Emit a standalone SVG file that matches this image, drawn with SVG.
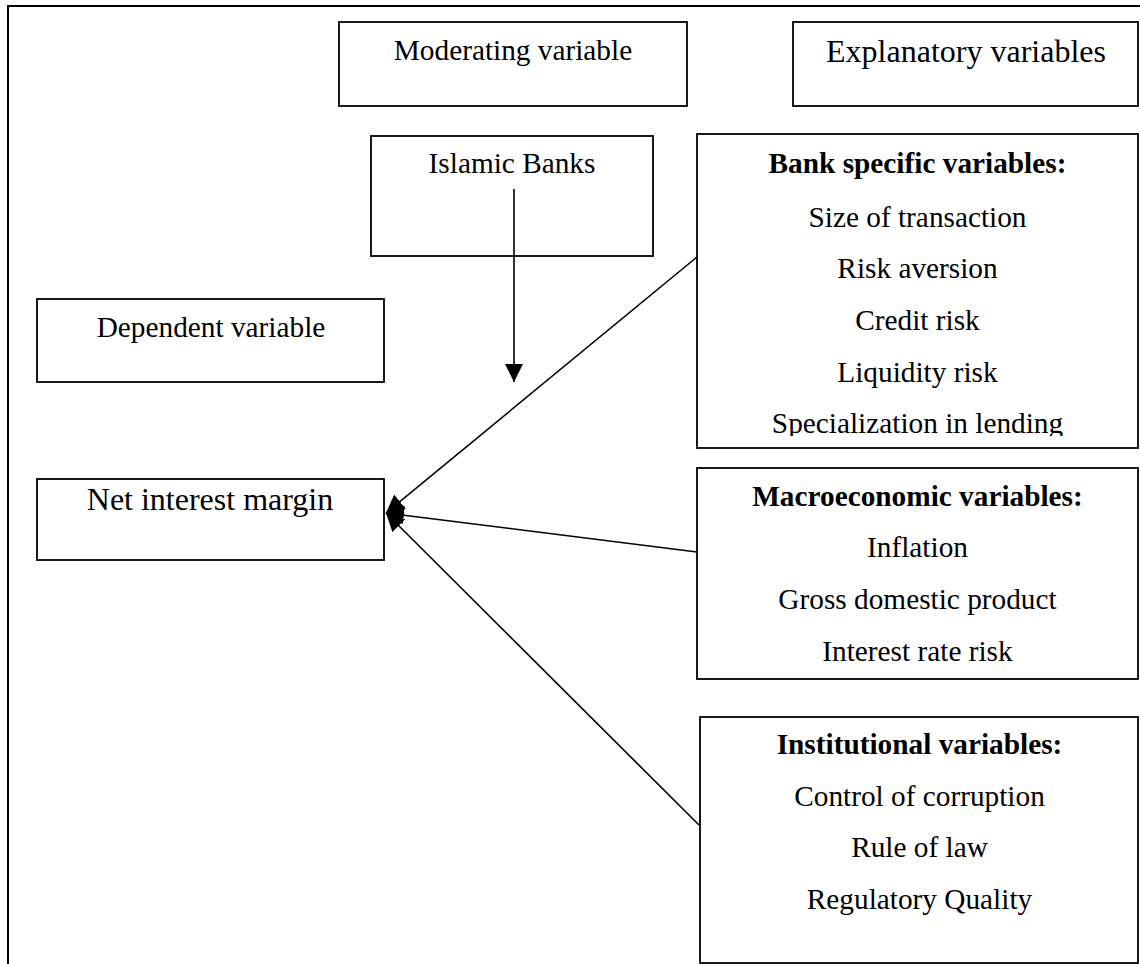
<svg xmlns="http://www.w3.org/2000/svg" width="1140" height="964" viewBox="0 0 1140 964">
<style>
.box{fill:#fff;stroke:#000;stroke-width:1.8}
.t{font-family:"Liberation Serif","Times New Roman",serif;font-size:29.3px;text-anchor:middle;fill:#000}
.b{font-weight:bold}
.big{font-size:32px}
.c{stroke:#000;stroke-width:1.6;fill:none}
</style>
<defs>
<marker id="ah" markerUnits="userSpaceOnUse" markerWidth="18" markerHeight="18" viewBox="0 0 16 16" refX="16" refY="8" orient="auto">
<path d="M0,0 L16,8 L0,16 Z" fill="#000"/>
</marker>
<clipPath id="bankclip"><rect x="697" y="134" width="441" height="302"/></clipPath>
</defs>
<rect width="1140" height="964" fill="#fff"/>
<rect x="8" y="6" width="1150" height="1000" fill="none" stroke="#000" stroke-width="2"/>
<g id="moderating-label">
<rect class="box" x="339" y="22" width="348" height="84"/>
<text class="t" x="513" y="60">Moderating variable</text>
</g>
<g id="explanatory-label">
<rect class="box" x="793" y="22" width="345" height="84"/>
<text class="t big" x="966" y="62">Explanatory variables</text>
</g>
<g id="islamic-banks">
<rect class="box" x="371" y="136" width="282" height="120"/>
<text class="t" x="512" y="173">Islamic Banks</text>
</g>
<g id="dependent-label">
<rect class="box" x="37" y="299" width="347" height="83"/>
<text class="t" x="211" y="337">Dependent variable</text>
</g>
<g id="nim">
<rect class="box" x="37" y="479" width="347" height="81"/>
<text class="t big" x="210" y="510">Net interest margin</text>
</g>
<g id="bank-specific">
<rect class="box" x="697" y="134" width="441" height="314"/>
<g clip-path="url(#bankclip)">
<text class="t b" x="917.5" y="173">Bank specific variables:</text>
<text class="t" x="917.5" y="227">Size of transaction</text>
<text class="t" x="917.5" y="278">Risk aversion</text>
<text class="t" x="917.5" y="330">Credit risk</text>
<text class="t" x="917.5" y="382">Liquidity risk</text>
<text class="t" x="917.5" y="433">Specialization in lending</text>
</g>
</g>
<g id="macroeconomic">
<rect class="box" x="697" y="468" width="441" height="211"/>
<text class="t b" x="917.5" y="506">Macroeconomic variables:</text>
<text class="t" x="917.5" y="557">Inflation</text>
<text class="t" x="917.5" y="609">Gross domestic product</text>
<text class="t" x="917.5" y="661">Interest rate risk</text>
</g>
<g id="institutional">
<rect class="box" x="700" y="717" width="438" height="246"/>
<text class="t b" x="919.5" y="754">Institutional variables:</text>
<text class="t" x="919.5" y="806">Control of corruption</text>
<text class="t" x="919.5" y="857">Rule of law</text>
<text class="t" x="919.5" y="909">Regulatory Quality</text>
</g>
<g id="connectors">
<line class="c" x1="514" y1="189" x2="514" y2="382" marker-end="url(#ah)"/>
<line class="c" x1="697" y1="257" x2="386" y2="513" marker-end="url(#ah)"/>
<line class="c" x1="697" y1="552" x2="386" y2="513" marker-end="url(#ah)"/>
<line class="c" x1="699" y1="825" x2="386" y2="513" marker-end="url(#ah)"/>
</g>
</svg>
